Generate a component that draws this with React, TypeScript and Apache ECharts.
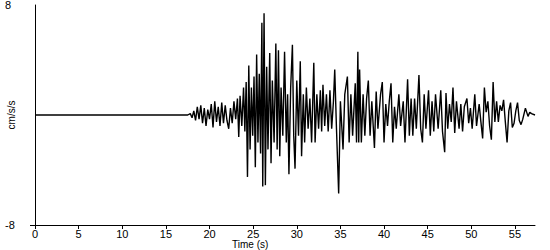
import React, { useEffect, useRef } from "react";
import * as echarts from "echarts";

const times: number[] = [
  0, 17.5, 17.8, 18.0, 18.2, 18.4, 18.6, 18.8, 19.0, 19.2, 19.4, 19.6, 19.8, 20.0, 20.2, 20.4, 20.6, 20.8,
  21.0, 21.2, 21.4, 21.6, 21.8, 22.0, 22.2, 22.4, 22.6, 22.8, 23.0, 23.2, 23.35, 23.5, 23.7, 23.9, 24.05,
  24.2, 24.35, 24.5, 24.65, 24.8, 24.95, 25.1, 25.25, 25.4, 25.55, 25.7, 25.85, 26.0, 26.1, 26.25, 26.4,
  26.55, 26.7, 26.9, 27.05, 27.2, 27.4, 27.6, 27.75, 27.9, 28.05, 28.2, 28.4, 28.6, 28.8, 28.95, 29.1,
  29.3, 29.5, 29.65, 29.8, 30.0, 30.2, 30.4, 30.55, 30.75, 30.9, 31.1, 31.3, 31.5, 31.7, 31.95, 32.1,
  32.3, 32.5, 32.7, 32.85, 33.0, 33.2, 33.4, 33.6, 33.8, 34.0, 34.2, 34.35, 34.55, 34.8, 35.0, 35.3,
  35.5, 35.8, 36.0, 36.2, 36.4, 36.7, 36.85, 37.0, 37.1, 37.2, 37.4, 37.6, 37.8, 38.0, 38.2, 38.4, 38.6,
  38.9, 39.1, 39.3, 39.6, 39.8, 40.0, 40.2, 40.4, 40.6, 40.8, 41.0, 41.2, 41.4, 41.7, 41.9, 42.2, 42.4,
  42.7, 42.9, 43.1, 43.3, 43.5, 43.7, 44.0, 44.2, 44.4, 44.6, 44.8, 45.1, 45.3, 45.5, 45.7, 45.9, 46.2,
  46.5, 46.7, 46.95, 47.1, 47.3, 47.5, 47.7, 47.9, 48.1, 48.3, 48.6, 48.8, 49.0, 49.2, 49.5, 49.7, 49.9,
  50.1, 50.4, 50.6, 50.9, 51.1, 51.3, 51.5, 51.7, 51.9, 52.1, 52.3, 52.5, 52.7, 52.9, 53.1, 53.3, 53.5,
  53.7, 53.9, 54.1, 54.3, 54.5, 54.7, 54.9, 55.1, 55.3, 55.5, 55.7, 55.9, 56.2, 56.5, 56.7, 56.9, 57.3,
];

const accel: number[] = [
  0, 0, 0.1, -0.2, 0.3, -0.4, 0.6, -0.3, 0.7, -0.6, 0.5, -0.8, 0.4, -0.3, 0.8, -0.9, 1.0, -0.5,
  0.6, -0.8, 0.9, -0.6, 0.7, -0.4, -1.0, 0.5, -0.6, 1.0, -0.3, 1.2, -1.6, 1.4, -0.8, 2.0, -1.2,
  2.4, -4.5, 3.6, -2.5, 2.0, -1.5, 2.8, -3.8, 4.4, -2.0, 3.0, -2.8, 6.7, -5.2, 7.4, -5.1,
  3.5, -2.5, 4.5, -3.5, 2.5, -2.0, 5.2, -2.5, 4.7, -3.0, 2.0, -1.5, 4.6, -2.0, 1.5, -4.3,
  2.0, 5.1, -1.5, -3.9, 2.5, -1.5, 3.9, -3.0, 1.5, -2.0, 2.0, -1.0, 1.2, -2.0, 3.8, -2.0,
  1.5, -1.0, 1.8, -1.2, 2.2, -0.8, 1.5, -1.2, 1.8, -1.0, 1.0, 3.3, -1.0, -5.7, 1.0, -2.5,
  1.5, 2.8, -2.0, 1.5, -1.5, 2.3, -2.0, 4.6, -2.0, 3.3, -2.0, 1.5, -1.5, 1.2, 2.5, -1.5, 1.0,
  -2.4, 1.7, -1.0, 1.5, 2.4, -2.0, 0.8, -0.8, 1.0, 2.3, -2.0, 0.6, -1.0, 1.5, -0.8, 1.0, -2.0,
  2.6, -1.5, 1.2, -1.5, 1.2, -1.0, 2.9, -1.0, -2.0, 1.5, -1.0, 1.8, -1.5, 1.0, -1.2, 1.5, -1.0,
  1.8, -1.2, -2.7, 1.6, -1.0, 0.8, -0.5, 2.0, -1.3, 1.0, -1.0, 0.8, -1.2, 0.6, 1.2, -0.6, 0.5,
  -1.0, 1.5, -0.8, 0.8, -0.5, -1.7, 2.0, 0.2, 1.0, -0.8, -1.8, 2.4, -0.5, 1.0, -0.5, 0.7, 0.3,
  1.1, -0.5, -2.0, 0.3, 0.9, -0.9, -0.6, 0.3, 0.9, -0.4, -0.7, -0.3, 0.5, -0.1, 0.2, 0.1, 0.0,
];

const xTitle = "Time (s)";
const yTitle = "cm/s/s";
const font = "Liberation Sans, Arial, sans-serif";

export default function App() {
  const ref = useRef<HTMLDivElement>(null);
  useEffect(() => {
    if (!ref.current) return;
    const chart = echarts.init(ref.current, undefined, { renderer: "svg" });
    const data = times.map((t, i) => [t, accel[i]]);
    chart.setOption({
      animation: false,
      backgroundColor: "#ffffff",
      grid: { left: 35, right: 15, top: 5, bottom: 25, containLabel: false, outerBoundsMode: "none" },
      xAxis: {
        type: "value",
        min: 0,
        max: 57.3,
        interval: 5,
        axisLine: { onZero: false, lineStyle: { color: "#000", width: 1 } },
        axisTick: { length: 4, lineStyle: { color: "#000" } },
        axisLabel: { color: "#000", fontSize: 11, fontFamily: font, margin: 3, showMaxLabel: false },
        splitLine: { show: false },
      },
      yAxis: {
        type: "value",
        min: -8,
        max: 8,
        interval: 16,
        name: yTitle,
        nameLocation: "middle",
        nameGap: 19,
        nameMoveOverlap: false,
        nameTextStyle: { color: "#000", fontSize: 10, fontFamily: font },
        axisLine: { show: true, onZero: false, lineStyle: { color: "#000", width: 1 } },
        axisTick: { show: true, length: 5, lineStyle: { color: "#000" }, customValues: [-8] },
        axisLabel: { color: "#000", fontSize: 11, fontFamily: font, margin: 30, align: "left" },
        splitLine: { show: false },
      },
      graphic: [
        {
          type: "text",
          left: 232,
          top: 239,
          style: { text: xTitle, fill: "#000", fontSize: 10, fontFamily: font },
        },
      ],
      series: [
        {
          type: "line",
          data,
          showSymbol: false,
          lineStyle: { color: "#000", width: 1.4 },
        },
      ],
    });
    return () => chart.dispose();
  }, []);
  return (
    <div
      ref={ref}
      style={{ position: "fixed", left: 0, top: 0, width: 550, height: 250, background: "#fff" }}
    />
  );
}
